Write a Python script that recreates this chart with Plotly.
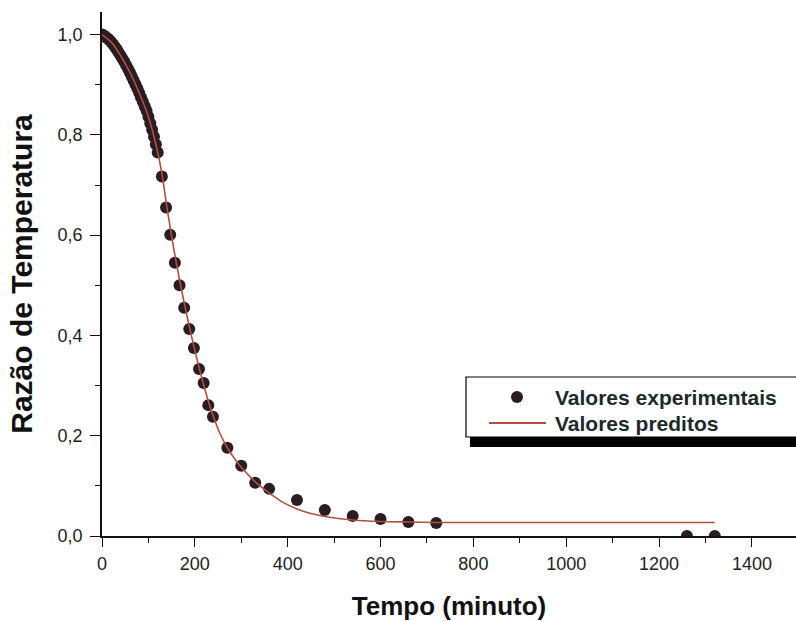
import plotly.graph_objects as go

# Experimental data (minutes, temperature ratio)
t_exp = [0, 4, 8, 12, 16, 20, 24, 28, 32, 36, 40, 44, 48, 52, 56, 60, 64, 68, 72, 76,
         80, 84, 88, 92, 96, 100, 104, 108, 112, 116, 120,
         129, 138, 147, 157, 167, 177, 188, 198, 209, 219, 229, 239,
         270, 300, 330, 360, 420, 480, 540, 600, 660, 720, 1260, 1320]
y_exp = [1.000, 0.998, 0.995, 0.992, 0.989, 0.985, 0.980, 0.975, 0.970, 0.964, 0.958,
         0.952, 0.946, 0.939, 0.932, 0.925, 0.917, 0.909, 0.901, 0.893,
         0.884, 0.875, 0.866, 0.857, 0.848, 0.836, 0.823, 0.810, 0.796, 0.781, 0.765,
         0.717, 0.655, 0.601, 0.545, 0.500, 0.455, 0.413, 0.375, 0.333, 0.305, 0.261, 0.238,
         0.176, 0.140, 0.106, 0.094, 0.072, 0.052, 0.040, 0.034, 0.028, 0.026, 0.0, 0.0]

# Predicted curve
t_pred = [0, 20, 40, 60, 80, 100, 120, 130, 140, 150, 160, 170, 180, 190, 200, 210,
          220, 230, 240, 255, 270, 285, 300, 330, 360, 390, 420, 450, 480, 540, 600,
          660, 720, 800, 1000, 1320]
y_pred = [1.000, 0.985, 0.958, 0.925, 0.884, 0.836, 0.765, 0.717, 0.655, 0.598, 0.545,
          0.497, 0.452, 0.410, 0.370, 0.333, 0.298, 0.266, 0.238, 0.203, 0.176, 0.155,
          0.137, 0.108, 0.086, 0.067, 0.054, 0.045, 0.039, 0.032, 0.029, 0.028, 0.027,
          0.027, 0.027, 0.027]

x_ticks = [0, 200, 400, 600, 800, 1000, 1200, 1400]
y_ticks = [0.0, 0.2, 0.4, 0.6, 0.8, 1.0]
legend_names = ["Valores experimentais", "Valores preditos"]

MARKER_COLOR = "#2a1c22"
LINE_COLOR = "#b0503e"
FONT = "Arial, 'Liberation Sans', sans-serif"
W, H = 796, 621
ML, MR, MT, MB = 102, 0, 12, 85
PW, PH = W - ML - MR, H - MT - MB


def px(x):
    return (x - ML) / PW


def py(y):
    return (H - MB - y) / PH


fig = go.Figure()
fig.add_trace(go.Scatter(
    x=t_exp, y=y_exp, mode="markers", name=legend_names[0],
    marker=dict(size=12, color=MARKER_COLOR, line=dict(width=0)),
    showlegend=False,
))
fig.add_trace(go.Scatter(
    x=t_pred, y=y_pred, mode="lines", name=legend_names[1],
    line=dict(color=LINE_COLOR, width=1.6, shape="spline", smoothing=0.6),
    showlegend=False,
))

# legend frame with dark shadow bar
fig.add_shape(type="rect", xref="paper", yref="paper",
              x0=px(470), x1=px(820), y0=py(447), y1=py(437),
              fillcolor="#000000", line=dict(width=0), layer="above")
fig.add_shape(type="rect", xref="paper", yref="paper",
              x0=px(466), x1=px(820), y0=py(437), y1=py(377),
              fillcolor="white", line=dict(color="#000000", width=1.2), layer="above")
# legend symbols
fig.add_shape(type="circle", xref="paper", yref="paper",
              x0=px(511), x1=px(523), y0=py(403), y1=py(391),
              fillcolor=MARKER_COLOR, line=dict(width=0), layer="above")
fig.add_shape(type="line", xref="paper", yref="paper",
              x0=px(489), x1=px(546), y0=py(423), y1=py(423),
              line=dict(color=LINE_COLOR, width=2), layer="above")
for name, yy in zip(legend_names, [397, 423]):
    fig.add_annotation(xref="paper", yref="paper", x=px(553), y=py(yy),
                       xanchor="left", yanchor="middle", showarrow=False,
                       text="<b>%s</b>" % name,
                       font=dict(family=FONT, size=21, color="#1c2a2a"))

fig.update_layout(
    width=W, height=H,
    margin=dict(l=ML, r=MR, t=MT, b=MB),
    paper_bgcolor="white", plot_bgcolor="white",
    separators=",.",
    font=dict(family=FONT, size=18, color="#222222"),
    showlegend=False,
    xaxis=dict(
        range=[0, 1495], showgrid=False, zeroline=False, automargin=False,
        showline=True, linecolor="#111111", linewidth=1.5,
        ticks="outside", ticklen=9, tickwidth=1.3, tickcolor="#111111",
        tickvals=x_ticks, ticktext=[str(v) for v in x_ticks],
        tickfont=dict(family=FONT, size=18, color="#222222"),
        ticklabelstandoff=2,
        minor=dict(ticks="outside", ticklen=5, tickcolor="#111111", dtick=100, tick0=0),
        title=dict(text="<b>Tempo (minuto)</b>", standoff=29,
                   font=dict(family=FONT, size=26, color="#111111")),
    ),
    yaxis=dict(
        range=[0, 1.045], showgrid=False, zeroline=False, automargin=False,
        showline=True, linecolor="#111111", linewidth=1.5,
        ticks="outside", ticklen=10, tickwidth=1.3, tickcolor="#111111",
        tickvals=y_ticks, tickformat=".1f",
        tickfont=dict(family=FONT, size=18, color="#222222"),
        ticklabelstandoff=4,
        minor=dict(ticks="outside", ticklen=5, tickcolor="#111111", dtick=0.1, tick0=0),
        title=dict(text="<b>Razão de Temperatura</b>", standoff=16,
                   font=dict(family=FONT, size=30, color="#111111")),
    ),
)

fig.write_html(
    "out.html",
    config={"displayModeBar": False},
    post_script=(
        "document.body.style.margin='0';"
        "document.body.style.overflow='hidden';"
        "document.documentElement.style.overflow='hidden';"
    ),
)
